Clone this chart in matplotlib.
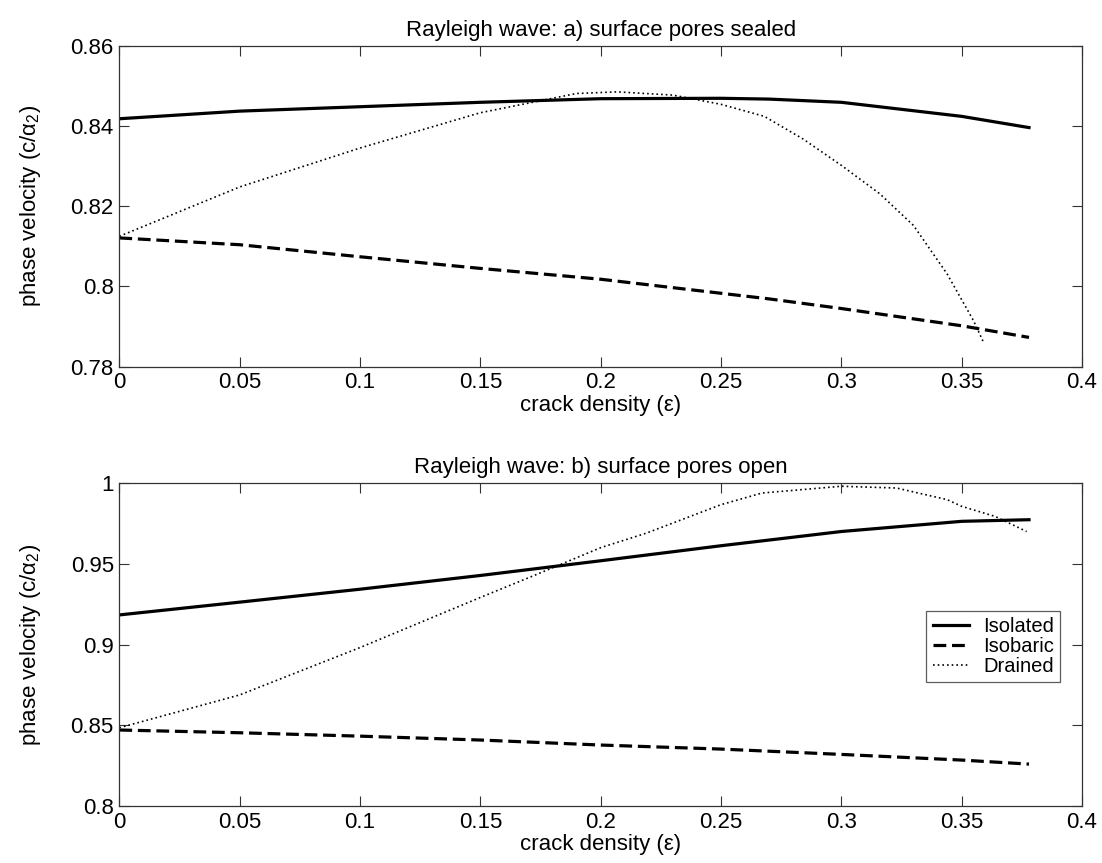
"""Rayleigh wave phase velocity vs crack density, two panels (sealed / open pores)."""
import matplotlib

matplotlib.use("Agg")
import matplotlib.pyplot as plt

plt.rcParams["font.family"] = ["Liberation Sans", "DejaVu Sans"]
plt.rcParams["mathtext.fontset"] = "custom"
plt.rcParams["mathtext.rm"] = "Liberation Sans"
plt.rcParams["mathtext.default"] = "regular"

# a) surface pores sealed
eps_a = [0.0, 0.05, 0.1, 0.15, 0.2, 0.25, 0.27, 0.3, 0.35, 0.378]
isolated_a = [0.8418, 0.8437, 0.8448, 0.8459, 0.8468, 0.8469, 0.8467, 0.8459, 0.8424, 0.8396]
isobaric_a = [0.8121, 0.8104, 0.8074, 0.8045, 0.8018, 0.7983, 0.7969, 0.7945, 0.7902, 0.7873]

eps_drained_a = [0.0, 0.05, 0.1, 0.15, 0.19, 0.207, 0.23, 0.25, 0.268, 0.284,
                 0.3, 0.316, 0.33, 0.344, 0.355, 0.359]
drained_a = [0.8125, 0.8248, 0.8345, 0.8433, 0.8481, 0.8485, 0.8477, 0.8454, 0.8424, 0.8368,
             0.8302, 0.8231, 0.8152, 0.8031, 0.7914, 0.7862]

# b) surface pores open
eps_b = [0.0, 0.05, 0.1, 0.15, 0.2, 0.25, 0.3, 0.35, 0.378]
isolated_b = [0.9184, 0.9263, 0.9343, 0.9428, 0.9519, 0.9612, 0.9700, 0.9763, 0.9773]
isobaric_b = [0.8472, 0.8455, 0.8434, 0.8410, 0.8379, 0.8354, 0.8321, 0.8286, 0.8261]

eps_drained_b = [0.0, 0.05, 0.1, 0.15, 0.173, 0.2, 0.219, 0.25, 0.267, 0.3,
                 0.323, 0.344, 0.35, 0.364, 0.377]
drained_b = [0.8486, 0.8689, 0.8982, 0.9292, 0.9432, 0.9600, 0.9690, 0.9866, 0.9938, 0.9980,
             0.9969, 0.9897, 0.9856, 0.9793, 0.9700]

xticks = [0, 0.05, 0.1, 0.15, 0.2, 0.25, 0.3, 0.35, 0.4]
xtick_labels = ["0", "0.05", "0.1", "0.15", "0.2", "0.25", "0.3", "0.35", "0.4"]
yticks_a = [0.78, 0.8, 0.82, 0.84, 0.86]
ytick_labels_a = ["0.78", "0.8", "0.82", "0.84", "0.86"]
yticks_b = [0.8, 0.85, 0.9, 0.95, 1.0]
ytick_labels_b = ["0.8", "0.85", "0.9", "0.95", "1"]

FS = 16
AX_COLOR = "#333333"
DASH = (0, (4, 1.8))


def style_axes(ax, yticks, ylabels, ylim, title):
    ax.set_xlim(0, 0.4)
    ax.set_ylim(*ylim)
    ax.set_xticks(xticks)
    ax.set_xticklabels(xtick_labels, fontsize=FS)
    ax.set_yticks(yticks)
    ax.set_yticklabels(ylabels, fontsize=FS)
    ax.tick_params(direction="in", length=7, width=0.8, color=AX_COLOR,
                   top=True, right=True, pad=4)
    for sp in ax.spines.values():
        sp.set_color(AX_COLOR)
        sp.set_linewidth(0.9)
    ax.set_xlabel("crack density (ε)", fontsize=FS, labelpad=1)
    ax.set_ylabel("phase velocity (c/α$_2$)", fontsize=FS, labelpad=20)
    ax.set_title(title, fontsize=FS, pad=7)


fig = plt.figure(figsize=(11.02, 8.63), dpi=100)
ax1 = fig.add_axes([0.1083, 0.5751, 0.8735, 0.3719])
ax2 = fig.add_axes([0.1083, 0.0657, 0.8735, 0.3746])

ax1.plot(eps_a, isolated_a, color="k", lw=2.3, ls="-", label="Isolated")
ax1.plot(eps_a, isobaric_a, color="k", lw=2.3, ls=DASH, label="Isobaric")
ax1.plot(eps_drained_a, drained_a, color="k", lw=1.2, ls=(0, (1, 1.8)), label="Drained")
style_axes(ax1, yticks_a, ytick_labels_a, (0.78, 0.86),
           "Rayleigh wave: a) surface pores sealed")

ax2.plot(eps_b, isolated_b, color="k", lw=2.3, ls="-", label="Isolated")
ax2.plot(eps_b, isobaric_b, color="k", lw=2.3, ls=DASH, label="Isobaric")
ax2.plot(eps_drained_b, drained_b, color="k", lw=1.2, ls=(0, (1, 1.8)), label="Drained")
style_axes(ax2, yticks_b, ytick_labels_b, (0.8, 1.0),
           "Rayleigh wave: b) surface pores open")

leg = ax2.legend(loc="lower right", bbox_to_anchor=(0.977, 0.385), fontsize=14.5,
                 frameon=True, fancybox=False, edgecolor=AX_COLOR, handlelength=1.8,
                 handletextpad=0.7, labelspacing=0.05, borderpad=0.3, borderaxespad=0)
leg.get_frame().set_linewidth(0.9)

fig.savefig("out.png", dpi=100)
